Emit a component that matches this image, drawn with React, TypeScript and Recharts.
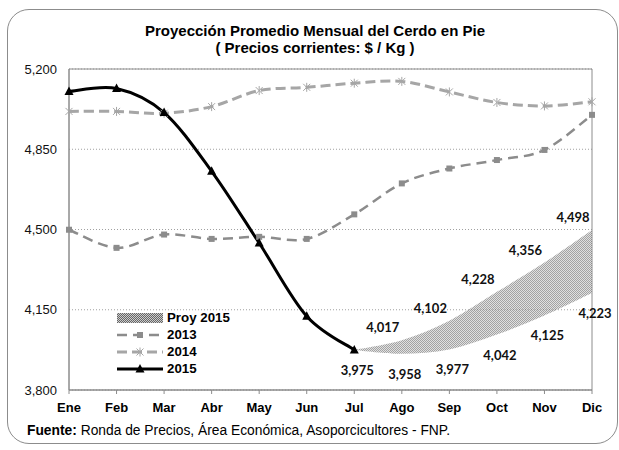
import React from "react";
import { ComposedChart, Line, Area, XAxis, YAxis, CartesianGrid, ReferenceArea, LabelList, Legend } from "recharts";

// Precios mensuales del cerdo en pie ($ / Kg)
const months = ["Ene", "Feb", "Mar", "Abr", "May", "Jun", "Jul", "Ago", "Sep", "Oct", "Nov", "Dic"];
const prices2013 = [4499, 4420, 4478, 4459, 4468, 4459, 4566, 4701, 4766, 4803, 4847, 5000];
const prices2014 = [5015, 5015, 5007, 5036, 5106, 5120, 5138, 5146, 5100, 5054, 5039, 5057];
const prices2015 = [5102, 5115, 5010, 4754, 4441, 4122, 3975, null, null, null, null, null];
const proyLow = [null, null, null, null, null, null, 3975, 3958, 3977, 4042, 4125, 4223];
const proyHigh = [null, null, null, null, null, null, 3975, 4017, 4102, 4228, 4356, 4498];
const yTicks = [3800, 4150, 4500, 4850, 5200];

const data = months.map((m, i) => ({
  month: m,
  y2013: prices2013[i],
  y2014: prices2014[i],
  y2015: prices2015[i],
  low: proyLow[i],
  high: proyHigh[i],
  proy: proyLow[i] != null && proyHigh[i] != null ? [proyLow[i], proyHigh[i]] : null,
}));

const fmt = (v: number) => v.toLocaleString("en-US");
const ARIAL = "'Liberation Sans', Arial, sans-serif";

// Excel-style smoothed line (Catmull-Rom through every point)
function excelSmooth(context: any) {
  let pts: number[][] = [];
  let line = NaN;
  const draw = () => {
    const n = pts.length;
    if (!n) return;
    if (line) context.lineTo(pts[0][0], pts[0][1]);
    else context.moveTo(pts[0][0], pts[0][1]);
    for (let i = 0; i < n - 1; i++) {
      const p0 = pts[Math.max(i - 1, 0)];
      const p1 = pts[i];
      const p2 = pts[i + 1];
      const p3 = pts[Math.min(i + 2, n - 1)];
      context.bezierCurveTo(
        p1[0] + (p2[0] - p0[0]) / 6, p1[1] + (p2[1] - p0[1]) / 6,
        p2[0] - (p3[0] - p1[0]) / 6, p2[1] - (p3[1] - p1[1]) / 6,
        p2[0], p2[1]
      );
    }
  };
  return {
    areaStart() { line = 0; },
    areaEnd() { line = NaN; },
    lineStart() { pts = []; },
    lineEnd() {
      draw();
      if (line || (line !== 0 && pts.length === 1)) context.closePath();
      line = 1 - line;
    },
    point(x: number, y: number) { pts.push([+x, +y]); },
  };
}

const SquareDot = (p: any) =>
  p.cy == null ? <g key={p.index} /> : <rect key={p.index} x={p.cx - 3} y={p.cy - 3} width={6} height={6} fill="#8c8c8c" />;

const StarDot = (p: any) =>
  p.cy == null ? <g key={p.index} /> : (
    <g key={p.index} stroke="#a6a6a6" strokeWidth={1}>
      <line x1={p.cx - 3.5} y1={p.cy - 3.5} x2={p.cx + 3.5} y2={p.cy + 3.5} />
      <line x1={p.cx - 3.5} y1={p.cy + 3.5} x2={p.cx + 3.5} y2={p.cy - 3.5} />
      <line x1={p.cx} y1={p.cy - 4.5} x2={p.cx} y2={p.cy + 4.5} />
    </g>
  );

const TriangleDot = (p: any) =>
  p.cy == null ? <g key={p.index} /> : (
    <polygon key={p.index} points={`${p.cx},${p.cy - 5} ${p.cx - 4.5},${p.cy + 3.5} ${p.cx + 4.5},${p.cy + 3.5}`} fill="#000" />
  );

const labelStyle = { fontFamily: "Lato, 'Open Sans', sans-serif", fontWeight: 700, fontSize: 13, fill: "#111" };

const UpperLabel = (p: any) => {
  if (p.value == null || p.index === proyLow.findIndex((v) => v != null)) return null;
  return (
    <text x={p.x - 19} y={p.y - 13} textAnchor="middle" dominantBaseline="central" style={labelStyle}>
      {fmt(p.value)}
    </text>
  );
};

const LowerLabel = (p: any) => {
  if (p.value == null) return null;
  return (
    <text x={p.x + 3} y={p.y + 20} textAnchor="middle" dominantBaseline="central" style={labelStyle}>
      {fmt(p.value)}
    </text>
  );
};

const legendItems = [
  { name: "Proy 2015", kind: "area" },
  { name: "2013", kind: "2013" },
  { name: "2014", kind: "2014" },
  { name: "2015", kind: "2015" },
];

function Swatch({ kind }: { kind: string }) {
  if (kind === "area") return <rect x={0} y={1} width={46} height={10} fill="url(#proyPattern)" />;
  if (kind === "2013")
    return (
      <g>
        <line x1={0} y1={6} x2={46} y2={6} stroke="#8c8c8c" strokeWidth={2.5} strokeDasharray="10 6" />
        <rect x={20} y={3} width={6} height={6} fill="#8c8c8c" />
      </g>
    );
  if (kind === "2014")
    return (
      <g>
        <line x1={0} y1={6} x2={46} y2={6} stroke="#a6a6a6" strokeWidth={3} strokeDasharray="10 5" />
        {StarDot({ cx: 23, cy: 6, index: 0 })}
      </g>
    );
  return (
    <g>
      <line x1={0} y1={6} x2={46} y2={6} stroke="#000" strokeWidth={3} />
      {TriangleDot({ cx: 23, cy: 6, index: 0 })}
    </g>
  );
}

const renderLegend = () => (
  <div>
    {legendItems.map((it) => (
      <div key={it.name} style={{ display: "flex", alignItems: "center", height: 17 }}>
        <svg width={46} height={12} style={{ marginRight: 4 }}>
          <Swatch kind={it.kind} />
        </svg>
        <span style={{ fontFamily: ARIAL, fontWeight: 700, fontSize: 13.3, color: "#000" }}>{it.name}</span>
      </div>
    ))}
  </div>
);

export default function App() {
  return (
    <div style={{ position: "absolute", left: 0, top: 0, width: 619, height: 450, background: "#fff" }}>
      <div
        style={{
          position: "absolute", left: 7, top: 9, width: 611, height: 435, boxSizing: "border-box",
          border: "1px solid #8c8c8c", borderRadius: 22,
        }}
      />
      <div
        style={{
          position: "absolute", left: 0, top: 23, width: 630, textAlign: "center",
          fontFamily: ARIAL, fontWeight: 700, fontSize: 15, lineHeight: "16.5px", color: "#000",
        }}
      >
        Proyección Promedio Mensual del Cerdo en Pie
        <br />( Precios corrientes: $ / Kg )
      </div>
      <ComposedChart
        width={619}
        height={450}
        data={data}
        margin={{ top: 69, right: 27, bottom: 30, left: 0 }}
        style={{ position: "absolute", left: 0, top: 0 }}
      >
        <defs>
          <pattern id="proyPattern" patternUnits="userSpaceOnUse" x={0} y={0} width={2} height={2}>
            <rect width={2} height={2} fill="#cccccc" />
            <rect width={1} height={1} fill="#666666" />
            <rect x={1} y={1} width={1} height={1} fill="#666666" />
          </pattern>
        </defs>
        <CartesianGrid horizontal vertical={false} stroke="#a0a0a0" strokeDasharray="1 2" />
        <XAxis
          dataKey="month"
          scale="point"
          height={30}
          stroke="#8c8c8c"
          tickSize={4}
          tickMargin={9}
          tick={{ fontFamily: ARIAL, fontWeight: 700, fontSize: 13, fill: "#000" }}
          interval={0}
        />
        <YAxis
          width={69}
          domain={[3800, 5200]}
          ticks={yTicks}
          tickFormatter={fmt}
          stroke="#8c8c8c"
          tickLine={false}
          tickMargin={6}
          tick={{ fontFamily: ARIAL, fontSize: 13, fill: "#111" }}
          allowDataOverflow
        />
        <ReferenceArea x1="Ene" x2="Dic" y1={3800} y2={5200} fill="none" stroke="#8c8c8c" strokeWidth={1} ifOverflow="visible" />
        <Area dataKey="proy" type={excelSmooth as any} fill="url(#proyPattern)" stroke="none" isAnimationActive={false} />
        <Line dataKey="y2013" type={excelSmooth as any} stroke="#8c8c8c" strokeWidth={2.5} strokeDasharray="10 6" dot={SquareDot} activeDot={false} isAnimationActive={false} />
        <Line dataKey="y2014" type={excelSmooth as any} stroke="#a6a6a6" strokeWidth={3} strokeDasharray="10 5" dot={StarDot} activeDot={false} isAnimationActive={false} />
        <Line dataKey="y2015" type={excelSmooth as any} stroke="#000" strokeWidth={3} dot={TriangleDot} activeDot={false} isAnimationActive={false} />
        <Line dataKey="high" stroke="none" strokeOpacity={0} dot={false} activeDot={false} isAnimationActive={false}>
          <LabelList dataKey="high" content={UpperLabel} />
        </Line>
        <Line dataKey="low" stroke="none" strokeOpacity={0} dot={false} activeDot={false} isAnimationActive={false}>
          <LabelList dataKey="low" content={LowerLabel} />
        </Line>
        <Legend
          layout="vertical"
          align="center"
          verticalAlign="middle"
          content={renderLegend}
          wrapperStyle={{ position: "absolute", left: 117, top: 309, width: 130, height: 68 }}
        />
      </ComposedChart>
      <div
        style={{
          position: "absolute", left: 27, top: 423, fontFamily: ARIAL, fontSize: 13.8, lineHeight: "16px", color: "#000",
          whiteSpace: "nowrap",
        }}
      >
        <b>Fuente:</b> Ronda de Precios, Área Económica, Asoporcicultores - FNP.
      </div>
    </div>
  );
}
